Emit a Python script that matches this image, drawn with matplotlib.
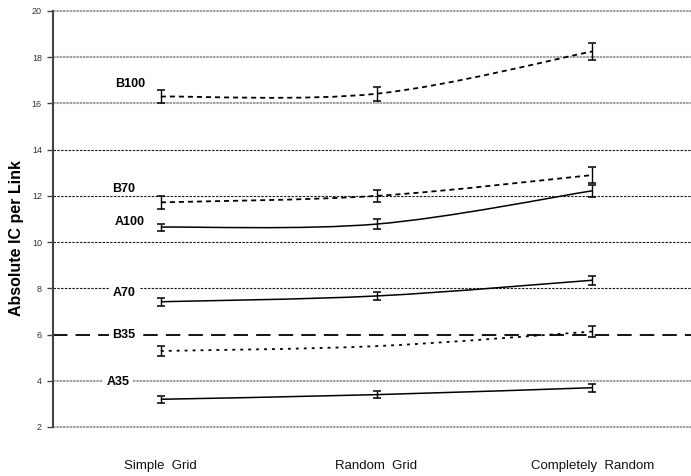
import numpy as np
import matplotlib
matplotlib.use("Agg")
import matplotlib.pyplot as plt
from matplotlib.path import Path
from matplotlib.patches import PathPatch

plt.rcParams['font.family'] = ['Liberation Sans', 'DejaVu Sans']

categories = ["Simple  Grid", "Random  Grid", "Completely  Random"]

series_names = ["B100", "B70", "A100", "A70", "B35", "A35"]
b100 = [16.30, 16.42, 18.25]
b100_err = [0.30, 0.30, 0.38]
b70 = [11.72, 12.00, 12.90]
b70_err = [0.28, 0.27, 0.36]
a100 = [10.65, 10.78, 12.22]
a100_err = [0.15, 0.20, 0.25]
a70 = [7.42, 7.67, 8.35]
a70_err = [0.17, 0.18, 0.20]
b35 = [5.29, 5.50, 6.13]
b35_err = [0.22, 0.0, 0.25]
a35 = [3.20, 3.40, 3.70]
a35_err = [0.14, 0.14, 0.18]

yticks = [2, 4, 6, 8, 10, 12, 14, 16, 18, 20]

fig = plt.figure(figsize=(6.91, 4.76), dpi=100)
ax = fig.add_axes([53 / 691, 49 / 476, 647 / 691, 416 / 476])
ax.set_xlim(-0.5, 2.5)
ax.set_ylim(2, 20)

# horizontal reference lines
gray_grid = [2, 4, 16, 18, 20]
dark_grid = [8, 10, 12, 14]
for v in gray_grid:
    ax.axhline(v, color="#a0a0a0", lw=1.5, ls=(0, (1.2, 0.4)), zorder=1, clip_on=False)
for v in dark_grid:
    ax.axhline(v, color="#1a1a1a", lw=0.8, ls=(0, (2.2, 1.2)), zorder=1)
ax.axhline(6, color="black", lw=1.3, ls=(0, (8, 4.5)), zorder=1)


def smooth_path(xs, ys):
    """Cubic Bezier through the points, with tangents from neighbours."""
    pts = np.column_stack([xs, ys]).astype(float)
    n = len(pts)
    verts = [pts[0]]
    codes = [Path.MOVETO]
    for i in range(n - 1):
        p_prev = pts[i - 1] if i > 0 else pts[i]
        p0, p1 = pts[i], pts[i + 1]
        p_next = pts[i + 2] if i + 2 < n else pts[i + 1]
        c1 = p0 + (p1 - p_prev) / 6.0
        c2 = p1 - (p_next - p0) / 6.0
        verts += [c1, c2, p1]
        codes += [Path.CURVE4] * 3
    return Path(verts, codes)


x = np.arange(len(categories))
series = [
    (b100, b100_err, (0, (2.8, 2.2)), 1.3),
    (b70, b70_err, (0, (2.8, 2.2)), 1.3),
    (a100, a100_err, "-", 1.1),
    (a70, a70_err, "-", 1.1),
    (b35, b35_err, (0, (1.6, 2.8)), 1.3),
    (a35, a35_err, "-", 1.1),
]
for vals, errs, ls, lw in series:
    patch = PathPatch(smooth_path(x, vals), facecolor="none", edgecolor="black",
                      lw=lw, ls=ls, zorder=3)
    ax.add_patch(patch)
    errs = np.asarray(errs)
    mask = errs > 0
    ax.errorbar(x[mask], np.asarray(vals)[mask], yerr=errs[mask], fmt="none",
                ecolor="black", elinewidth=1.0, capsize=3.2, capthick=1.1, zorder=4)

# series labels; the ones sitting on a reference line get a white backing
label_pos = {
    "B100": (-0.143, 16.84, False),
    "B70": (-0.171, 12.30, False),
    "A100": (-0.143, 10.88, False),
    "A70": (-0.171, 7.80, True),
    "B35": (-0.171, 5.99, True),
    "A35": (-0.200, 3.93, True),
}
for name in series_names:
    px, py, boxed = label_pos[name]
    bbox = dict(boxstyle="square,pad=0.25", fc="white", ec="none") if boxed else None
    ax.text(px, py, name, ha="center", va="center", fontsize=9, fontweight="bold",
            zorder=5, bbox=bbox)

ax.set_yticks(yticks)
ax.set_yticklabels([str(t) for t in yticks], fontsize=6.5, color="#333333")
ax.set_xticks(x)
ax.set_xticklabels(categories, fontsize=9.5, color="#111111")
ax.tick_params(axis="x", length=0, pad=24)
ax.tick_params(axis="y", length=4, width=1.0, color="#444444", pad=4, direction="out")
for s in ["top", "right", "bottom"]:
    ax.spines[s].set_visible(False)
ax.spines["left"].set_color("#444444")
ax.spines["left"].set_linewidth(1.5)

fig.text(17 / 691, 1 - 238 / 476, "Absolute IC per Link", rotation=90, ha="center",
         va="center", fontsize=11.5, fontweight="bold")

fig.savefig("out.png", dpi=100)
